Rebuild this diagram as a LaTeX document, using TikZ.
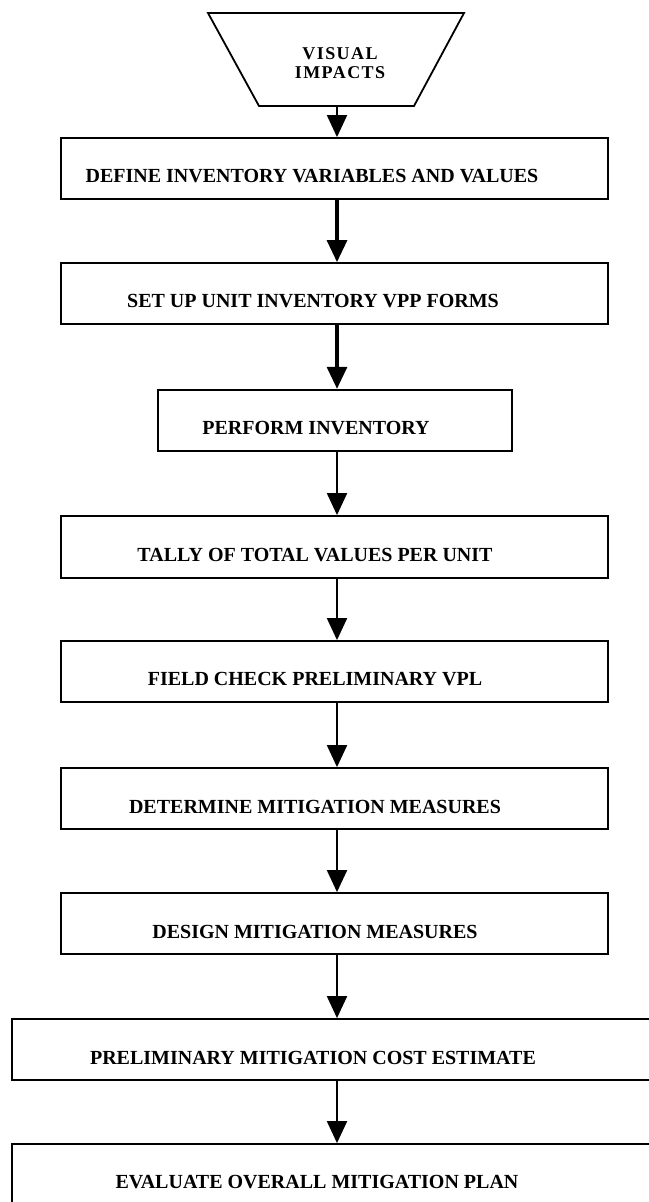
\documentclass[tikz,border=0pt]{standalone}
\usepackage{fontspec}
\setmainfont{Liberation Serif}
\newfontfamily\headfont[LetterSpace=8]{Liberation Serif}
\usetikzlibrary{arrows.meta}
\tikzset{
  box/.style={draw, line width=0.9pt, inner sep=0pt, minimum height=30.5pt},
  lbl/.style={font=\bfseries\fontsize{10}{12}\selectfont, inner sep=0pt},
  flow/.style={line width=1pt, -{Triangle[width=10pt,length=11pt]}},
  flowbold/.style={flow, line width=1.6pt},
}
\begin{document}
\begin{tikzpicture}[x=0.5pt, y=-0.5pt]
\useasboundingbox (0,0) rectangle (648,1202);
\coordinate (ax) at (337,0);

% source: inverted trapezoid
\draw[line width=0.9pt] (208,13) -- (464,13) -- (414,106) -- (259,106) -- cycle;
\coordinate (srcbot) at (337,106);
\node[inner sep=0pt, align=center, font=\headfont\bfseries\fontsize{9}{9.5}\selectfont] (src) at (340,63) {VISUAL\\IMPACTS};

% process boxes
\node[box, minimum width=273.5pt] (b1) at (334.5,168.5) {};
\node[box, minimum width=273.5pt] (b2) at (334.5,293.5) {};
\node[box, minimum width=177pt, line width=1.2pt] (b3) at (335,420.5) {};
\node[box, minimum width=273.5pt, minimum height=31pt] (b4) at (334.5,547) {};
\node[box, minimum width=273.5pt] (b5) at (334.5,671.5) {};
\node[box, minimum width=273.5pt] (b6) at (334.5,798.5) {};
\node[box, minimum width=273.5pt] (b7) at (334.5,923.5) {};
\node[box, minimum width=334pt] (b8) at (346,1049.5) {};
\node[box, minimum width=334pt] (b9) at (346,1174.5) {};

% box texts
\node[lbl] (t1) at (312,176.5) {DEFINE INVENTORY VARIABLES AND VALUES};
\node[lbl] (t2) at (313,301.5) {SET UP UNIT INVENTORY VPP FORMS};
\node[lbl] (t3) at (316,428.5) {PERFORM INVENTORY};
\node[lbl] (t4) at (315,555) {TALLY OF TOTAL VALUES PER UNIT};
\node[lbl] (t5) at (315,679.5) {FIELD CHECK PRELIMINARY VPL};
\node[lbl] (t6) at (315,806.5) {DETERMINE MITIGATION MEASURES};
\node[lbl] (t7) at (315,931.5) {DESIGN MITIGATION MEASURES};
\node[lbl] (t8) at (313,1057.5) {PRELIMINARY MITIGATION COST ESTIMATE};
\node[lbl] (t9) at (317,1182.5) {EVALUATE OVERALL MITIGATION PLAN};

% connectors
\draw[flow] (srcbot) -- (b1.north -| ax);
\draw[flowbold] (b1.south -| ax) -- (b2.north -| ax);
\draw[flowbold] (b2.south -| ax) -- (b3.north -| ax);
\draw[flow] (b3.south -| ax) -- (b4.north -| ax);
\draw[flow] (b4.south -| ax) -- (b5.north -| ax);
\draw[flow] (b5.south -| ax) -- (b6.north -| ax);
\draw[flow] (b6.south -| ax) -- (b7.north -| ax);
\draw[flow] (b7.south -| ax) -- (b8.north -| ax);
\draw[flow] (b8.south -| ax) -- (b9.north -| ax);
\end{tikzpicture}
\end{document}
